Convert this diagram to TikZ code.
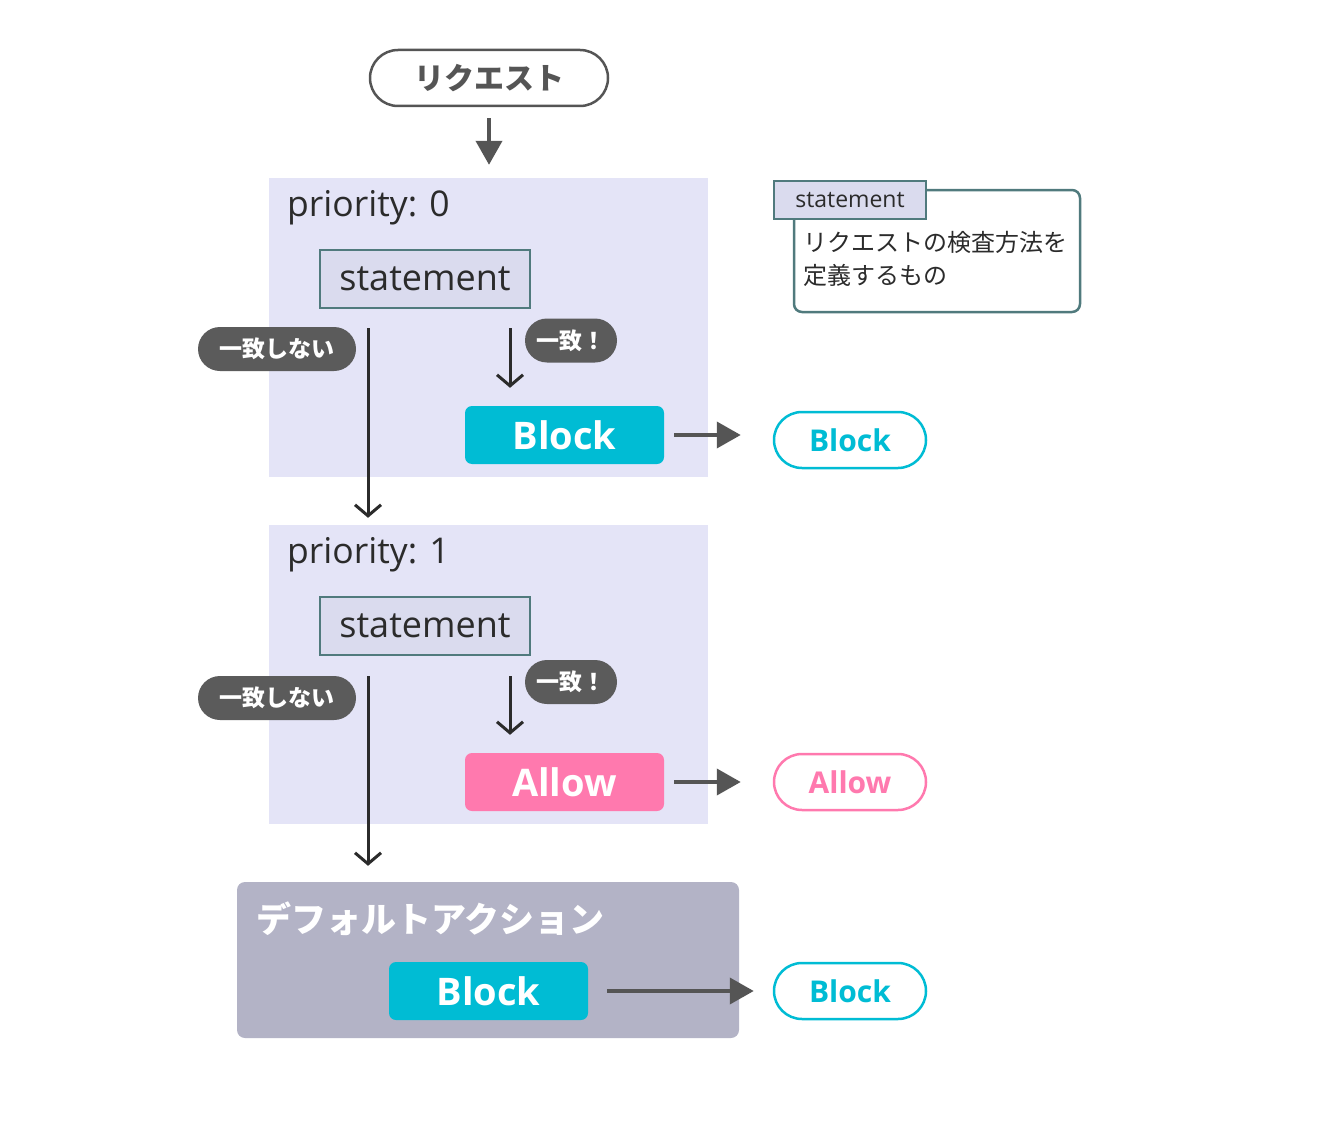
\documentclass[tikz,border=0pt]{standalone}
\usepackage{fontspec}
\setmainfont{Open Sans}
\newfontfamily\jpfont{Noto Sans CJK JP}
\usetikzlibrary{arrows.meta, positioning, calc}
\definecolor{wafInk}{HTML}{2B2B2B}
\definecolor{wafGray}{HTML}{555555}
\definecolor{wafPanel}{HTML}{E4E4F7}
\definecolor{wafStmt}{HTML}{DADBEE}
\definecolor{wafTeal}{HTML}{507A7D}
\definecolor{wafTag}{HTML}{5B5B5B}
\definecolor{wafCyan}{HTML}{00BCD4}
\definecolor{wafPink}{HTML}{FF79AE}
\definecolor{wafDefault}{HTML}{B3B3C6}

\begin{document}
\begin{tikzpicture}[
        x=1pt,
        y=-1pt,
        font=\fontsize{24}{30}\selectfont,
        request/.style={rectangle, draw=wafGray, line width=2.5pt, fill=white,
                        rounded corners=28pt, text=wafGray,
                        font=\jpfont\bfseries\fontsize{30}{36}\selectfont,
                        minimum width=238pt, minimum height=56pt, inner sep=0pt},
        panel/.style={rectangle, fill=wafPanel, inner sep=0pt,
                      minimum width=439pt, minimum height=299pt},
        prio/.style={anchor=west, text=wafInk, inner sep=0pt,
                     font=\fontsize{35.5}{40}\selectfont},
        stmtbox/.style={rectangle, draw=wafTeal, line width=2pt, fill=wafStmt,
                        text=wafInk, inner sep=0pt, font=\fontsize{36}{40}\selectfont,
                        minimum width=210pt, minimum height=58pt},
        tag/.style={rectangle, rounded corners=22pt, fill=wafTag, text=white,
                    font=\jpfont\bfseries\fontsize{23}{26}\selectfont,
                    minimum height=44pt, inner sep=0pt},
        action/.style={rectangle, rounded corners=7pt, text=white, inner sep=0pt,
                       font=\bfseries\fontsize{38}{44}\selectfont,
                       minimum width=199pt, minimum height=58pt},
        blockact/.style={action, fill=wafCyan},
        allowact/.style={action, fill=wafPink},
        result/.style={rectangle, rounded corners=28pt, line width=2.5pt, fill=white,
                       inner sep=0pt, font=\bfseries\fontsize{30}{36}\selectfont,
                       minimum width=152pt, minimum height=56pt},
        blockres/.style={result, draw=wafCyan, text=wafCyan},
        allowres/.style={result, draw=wafPink, text=wafPink},
        flow/.style={-{Straight Barb[length=11pt,width=26pt]}, draw=wafInk, line width=3pt},
        emit/.style={-{Triangle[length=24pt,width=26pt]}, draw=wafGray, line width=4pt}
    ]
    \useasboundingbox (0,0) rectangle (1320,1137);

    % Request
    \node[request] (req) at (489,78) {リクエスト};

    % Rule with priority 0
    \node[panel] (prio0) at (488.5,327.5) {};
    \node[prio] (prio0label) at (287,208) {priority: 0};
    \node[stmtbox] (stmt0) at (425,279) {statement};
    \node[tag, minimum width=158pt] (miss0tag) at (277,349) {一致しない};
    \node[tag, minimum width=92pt] (hit0tag) at (571,340.5) {一致！};
    \node[blockact] (act0) at (564.5,435) {Block};
    \node[blockres] (res0) at (850,440) {Block};
    \coordinate (miss0) at (368,328);
    \coordinate (hit0) at (510,328);

    % Rule with priority 1
    \node[panel] (prio1) at (488.5,674.5) {};
    \node[prio] (prio1label) at (287,555) {priority: 1};
    \node[stmtbox] (stmt1) at (425,626) {statement};
    \node[tag, minimum width=158pt] (miss1tag) at (277,698) {一致しない};
    \node[tag, minimum width=92pt] (hit1tag) at (571,682) {一致！};
    \node[allowact] (act1) at (564.5,782) {Allow};
    \node[allowres] (res1) at (850,782) {Allow};
    \coordinate (miss1) at (368,676);
    \coordinate (hit1) at (510,676);

    % Default action
    \node[rectangle, rounded corners=8pt, fill=wafDefault, minimum width=502pt,
          minimum height=156pt, inner sep=0pt] (default) at (488,960) {};
    \node[anchor=west, inner sep=0pt, text=white,
          font=\jpfont\bfseries\fontsize{35}{40}\selectfont] (defaultlabel)
          at (256,919) {デフォルトアクション};
    \node[blockact] (act2) at (488.5,991) {Block};
    \node[blockres] (res2) at (850,991) {Block};

    % Legend
    \node[rectangle, rounded corners=8pt, draw=wafTeal, line width=2.5pt, fill=white,
          minimum width=286pt, minimum height=122pt, inner sep=0pt] (legend) at (937,251) {};
    \node[rectangle, draw=wafTeal, line width=2pt, fill=wafStmt, text=wafInk,
          minimum width=152pt, minimum height=38pt, inner sep=0pt,
          font=\fontsize{23}{28}\selectfont] (legendtab) at (850,200) {statement};
    \node[anchor=north west, align=left, inner sep=0pt, text=wafInk,
          font=\jpfont\fontsize{24}{33}\selectfont] (legendtext) at (803,231)
          {リクエストの検査方法を\\定義するもの};

    % Flow
    \draw[emit, shorten <=11pt, shorten >=13pt] (req.south) -- (req.south |- prio0.north);
    \draw[flow] (miss0) -- ($(miss0 |- prio1.north)+(0,-7)$);
    \draw[flow] (hit0) -- ($(hit0 |- act0.north)+(0,-18)$);
    \draw[flow] (miss1) -- ($(miss1 |- default.north)+(0,-16)$);
    \draw[flow] (hit1) -- ($(hit1 |- act1.north)+(0,-18)$);

    % Outcomes
    \draw[emit, shorten <=10pt, shorten >=32pt] (act0.east) -- (act0.east -| res0.west);
    \draw[emit, shorten <=10pt, shorten >=32pt] (act1.east) -- (res1.west);
    \draw[emit, shorten <=19pt, shorten >=19pt] (act2.east) -- (res2.west);

\end{tikzpicture}
\end{document}
